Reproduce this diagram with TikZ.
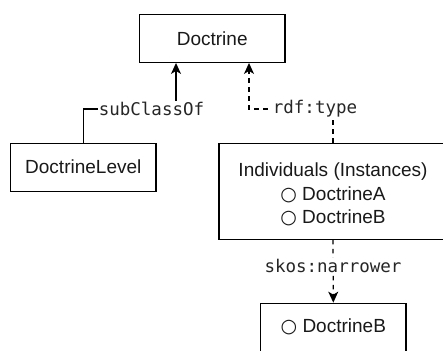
\documentclass[tikz,border=0pt]{standalone}
\usepackage{fontspec}
\setmainfont{Liberation Sans}
\newfontfamily\symfont{DejaVu Sans}
\newfontfamily\monofont{DejaVu Sans Mono}
\usetikzlibrary{arrows.meta}
\newcommand{\circsym}{{\symfont ○}}
\begin{document}
\begin{tikzpicture}[x=1pt,y=1pt,
  box/.style={draw=black, line width=1.3pt, fill=white, minimum width=145.5pt, minimum height=48pt, inner sep=0pt, font=\fontsize{19}{23.5}\selectfont, text=black!90, align=center},
  lbl/.style={fill=white, inner sep=1pt, font=\fontsize{17.5}{20}\selectfont\monofont, text=black!85},
  conn/.style={line width=1.3pt, -{Stealth[length=11pt,width=10pt,inset=3pt]}},
  dsh/.style={dash pattern=on 4.5pt off 4.5pt}
]
\useasboundingbox (0,0) rectangle (443,350);
\begin{scope}
\clip (0,0) rectangle (443,350);
\node[box] (doc) at (212.2,311.7) {Doctrine};
\node[box] (lvl) at (83.3,182.8) {DoctrineLevel};
\node[box, minimum width=228pt, minimum height=96pt] (ind) at (333,158.7) {\rule{0pt}{20pt}Individuals (Instances)\\\circsym\ DoctrineA\\\circsym\ DoctrineB};
\node[box] (nb) at (333.3,22.7) {\circsym\ DoctrineB};
\coordinate (sc) at (176,241);
\coordinate (rt) at (249,241);
\draw[conn] (lvl.north) |- (sc) -- (sc |- doc.south);
\draw[conn, dsh] (ind.north) |- (rt) -- (rt |- doc.south);
\draw[conn, dsh] (ind.south) -- (nb.north);
\node[lbl] (sclbl) at (151.5,241) {subClassOf};
\node[lbl] (rtlbl) at (315,241) {rdf:type};
\node[lbl] (sklbl) at (333,84) {skos:narrower};
\end{scope}
\end{tikzpicture}
\end{document}
